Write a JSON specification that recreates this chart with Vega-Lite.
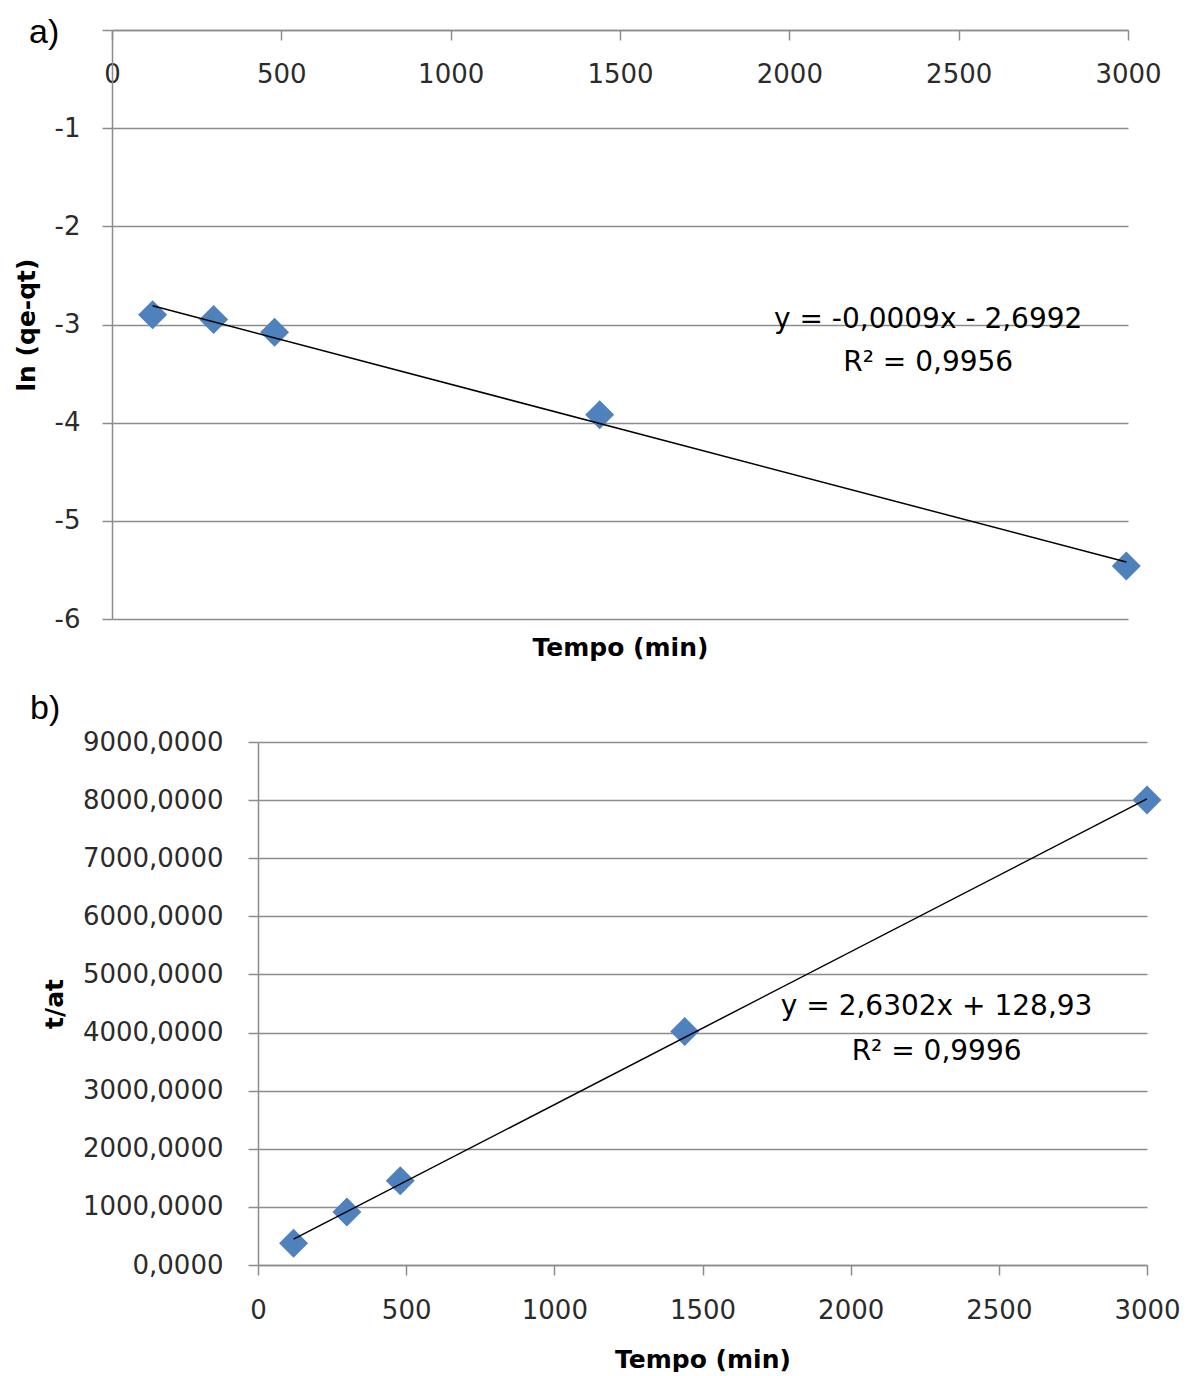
{
  "$schema": "https://vega.github.io/schema/vega-lite/v6.json",
  "padding": {"left": 13, "top": 15, "right": 0, "bottom": 0},
  "spacing": 31,
  "config": {
    "view": {"stroke": null},
    "locale": {"number": {"decimal": ",", "thousands": "", "grouping": [3], "currency": ["", ""], "minus": "-"}},
    "axis": {
      "domainColor": "#8c8c8c", "domainWidth": 1.5,
      "tickColor": "#8c8c8c", "tickWidth": 1.5, "tickSize": 10,
      "gridColor": "#8c8c8c", "gridWidth": 1.5,
      "labelFont": "DejaVu Sans", "labelFontSize": 26, "labelColor": "#2b2b2b",
      "labelOverlap": false, "labelFlush": false, "labelBound": false,
      "titleFont": "DejaVu Sans", "titleFontSize": 25, "titleFontWeight": "bold", "titleColor": "#000000",
      "maxExtent": 400
    }
  },
  "datasets": {
    "a_pts": [
      {"tempo": 120, "valor": -2.90},
      {"tempo": 300, "valor": -2.95},
      {"tempo": 480, "valor": -3.08},
      {"tempo": 1440, "valor": -3.92},
      {"tempo": 2995, "valor": -5.46}
    ],
    "a_fit": [
      {"tempo": 120, "valor": -2.81},
      {"tempo": 2995, "valor": -5.42}
    ],
    "a_txt": [
      {"tempo": 2410, "valor": -3.036, "texto": "y = -0,0009x - 2,6992"},
      {"tempo": 2410, "valor": -3.474, "texto": "R² = 0,9956"}
    ],
    "b_pts": [
      {"tempo": 120, "valor": 375},
      {"tempo": 300, "valor": 910},
      {"tempo": 480, "valor": 1450},
      {"tempo": 1440, "valor": 4020},
      {"tempo": 3000, "valor": 8000}
    ],
    "b_fit": [
      {"tempo": 120, "valor": 445},
      {"tempo": 3000, "valor": 8020}
    ],
    "b_txt": [
      {"tempo": 2290, "valor": 4302, "texto": "y = 2,6302x + 128,93"},
      {"tempo": 2290, "valor": 3528, "texto": "R² = 0,9996"}
    ]
  },
  "vconcat": [
    {
      "width": 1016,
      "height": 589,
      "title": {"text": "a)", "anchor": "start", "frame": "group", "orient": "top", "dx": -83, "dy": 59.5, "offset": 0, "baseline": "alphabetic", "font": "Liberation Sans", "fontSize": 34, "fontWeight": "normal", "color": "#000000"},
      "layer": [
        {
          "data": {"name": "a_pts"},
          "mark": {"type": "point", "shape": "diamond", "filled": true, "size": 841, "color": "#4F81BD", "opacity": 1, "strokeWidth": 0},
          "encoding": {
            "x": {"field": "tempo", "type": "quantitative", "scale": {"domain": [0, 3000], "nice": false, "zero": false},
              "axis": {"orient": "bottom", "offset": -589, "values": [0, 500, 1000, 1500, 2000, 2500, 3000], "format": "d", "grid": false,
                "labelBaseline": "alphabetic", "labelPadding": 42,
                "title": "Tempo (min)", "titleY": 625, "titleBaseline": "alphabetic"}},
            "y": {"field": "valor", "type": "quantitative", "scale": {"domain": [-6, 0], "nice": false, "zero": false},
              "axis": {"values": [0, -1, -2, -3, -4, -5, -6], "format": "d", "labelExpr": "datum.value == 0 ? '' : datum.label", "grid": true,
                "labelPadding": 22, "title": "ln (qe-qt)", "titleX": -73, "titleBaseline": "bottom", "minExtent": 99}}
          }
        },
        {
          "data": {"name": "a_fit"},
          "mark": {"type": "line", "color": "#000000", "strokeWidth": 1.5},
          "encoding": {
            "x": {"field": "tempo", "type": "quantitative"},
            "y": {"field": "valor", "type": "quantitative"}
          }
        },
        {
          "data": {"name": "a_txt"},
          "mark": {"type": "text", "font": "DejaVu Sans", "fontSize": 28, "align": "center", "baseline": "alphabetic", "color": "#000000"},
          "encoding": {
            "x": {"field": "tempo", "type": "quantitative"},
            "y": {"field": "valor", "type": "quantitative"},
            "text": {"field": "texto", "type": "nominal"}
          }
        }
      ]
    },
    {
      "width": 1035,
      "height": 523,
      "title": {"text": "b)", "anchor": "start", "frame": "group", "orient": "top", "dx": -82, "dy": 23.5, "offset": 0, "baseline": "alphabetic", "font": "Liberation Sans", "fontSize": 34, "fontWeight": "normal", "color": "#000000"},
      "layer": [
        {
          "data": {"name": "b_pts"},
          "mark": {"type": "point", "shape": "diamond", "filled": true, "size": 841, "color": "#4F81BD", "opacity": 1, "strokeWidth": 0},
          "encoding": {
            "x": {"field": "tempo", "type": "quantitative", "scale": {"domain": [0, 3000], "range": [146, 1035], "nice": false, "zero": false},
              "axis": {"values": [0, 500, 1000, 1500, 2000, 2500, 3000], "format": "d", "grid": false,
                "labelBaseline": "alphabetic", "labelPadding": 43,
                "title": "Tempo (min)", "titleY": 102, "titleBaseline": "alphabetic"}},
            "y": {"field": "valor", "type": "quantitative", "scale": {"domain": [0, 9000], "nice": false, "zero": false},
              "axis": {"values": [0, 1000, 2000, 3000, 4000, 5000, 6000, 7000, 8000, 9000], "format": ".4f", "grid": true,
                "offset": -146,
                "labelPadding": 25, "title": "t/at", "titleX": -191, "titleBaseline": "bottom"}}
          }
        },
        {
          "data": {"name": "b_fit"},
          "mark": {"type": "line", "color": "#000000", "strokeWidth": 1.5},
          "encoding": {
            "x": {"field": "tempo", "type": "quantitative"},
            "y": {"field": "valor", "type": "quantitative"}
          }
        },
        {
          "data": {"name": "b_txt"},
          "mark": {"type": "text", "font": "DejaVu Sans", "fontSize": 28, "align": "center", "baseline": "alphabetic", "color": "#000000"},
          "encoding": {
            "x": {"field": "tempo", "type": "quantitative"},
            "y": {"field": "valor", "type": "quantitative"},
            "text": {"field": "texto", "type": "nominal"}
          }
        }
      ]
    }
  ]
}
